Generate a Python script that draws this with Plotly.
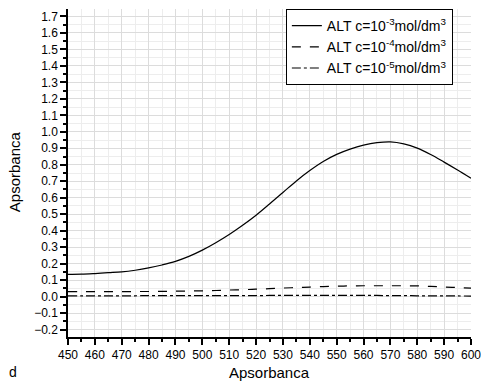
import plotly.graph_objects as go

wavelength = [450, 455, 460, 465, 470, 475, 480, 485, 490, 495, 500, 505, 510, 515,
              520, 525, 530, 535, 540, 545, 550, 555, 560, 565, 570, 575, 580, 585,
              590, 595, 600]
alt_1e3 = [0.135, 0.136, 0.140, 0.145, 0.150, 0.160, 0.174, 0.192, 0.214, 0.244,
           0.282, 0.327, 0.377, 0.433, 0.494, 0.562, 0.632, 0.702, 0.765, 0.820,
           0.863, 0.895, 0.919, 0.934, 0.939, 0.927, 0.901, 0.862, 0.816, 0.768, 0.718]
alt_1e4 = [0.030, 0.030, 0.030, 0.030, 0.030, 0.031, 0.031, 0.032, 0.033, 0.034,
           0.035, 0.037, 0.040, 0.042, 0.045, 0.048, 0.052, 0.055, 0.058, 0.061,
           0.063, 0.065, 0.066, 0.066, 0.066, 0.066, 0.065, 0.062, 0.058, 0.055, 0.052]
alt_1e5 = [0.005, 0.005, 0.005, 0.005, 0.005, 0.005, 0.006, 0.006, 0.006, 0.006,
           0.006, 0.006, 0.006, 0.006, 0.006, 0.007, 0.007, 0.007, 0.007, 0.007,
           0.007, 0.007, 0.007, 0.007, 0.006, 0.006, 0.005, 0.005, 0.004, 0.004, 0.003]

names = ["ALT c=10<sup>-3</sup>mol/dm<sup>3</sup>",
         "ALT c=10<sup>-4</sup>mol/dm<sup>3</sup>",
         "ALT c=10<sup>-5</sup>mol/dm<sup>3</sup>"]
x_title = "Apsorbanca"
y_title = "Apsorbanca"
panel_label = "d"

FONT = "Arial"

fig = go.Figure()
for ys, nm, dash in zip([alt_1e3, alt_1e4, alt_1e5], names, ["solid", "dash", "dashdot"]):
    fig.add_trace(go.Scatter(x=wavelength, y=ys, mode="lines", name=nm,
                             line=dict(color="black", width=1.2, dash=dash, shape="spline")))

axis_common = dict(showline=True, linecolor="black", linewidth=1.5,
                   ticks="outside", ticklen=6, tickwidth=1.5, tickcolor="black",
                   showgrid=True, gridcolor="#dcdcdc", gridwidth=1,
                   zeroline=False, tickfont=dict(family=FONT, size=12, color="black"),
                   mirror=False, ticklabeloverflow="allow", automargin=False)

fig.update_xaxes(range=[450, 600], dtick=10, tick0=450,
                 minor=dict(dtick=5, ticks="outside", ticklen=3, tickcolor="black",
                            showgrid=True, gridcolor="#ededed"),
                 **axis_common)
fig.update_yaxes(range=[-0.245, 1.745], dtick=0.1, tick0=0, tickformat=".1f",
                 minor=dict(dtick=0.05, ticks="outside", ticklen=3, tickcolor="black",
                            showgrid=True, gridcolor="#ededed"),
                 **axis_common)

fig.add_annotation(text=x_title, xref="paper", yref="paper", x=0.5, y=-0.107,
                   xanchor="center", yanchor="middle", showarrow=False,
                   font=dict(family=FONT, size=15, color="black"))
fig.add_annotation(text=y_title, xref="paper", yref="paper", x=-0.132, y=0.505,
                   xanchor="center", yanchor="middle", showarrow=False, textangle=-90,
                   font=dict(family=FONT, size=15, color="black"))
fig.add_annotation(text=panel_label, xref="paper", yref="paper", x=-0.152, y=-0.107,
                   xanchor="left", yanchor="middle", showarrow=False,
                   font=dict(family=FONT, size=14, color="black"))

fig.update_layout(
    width=481, height=385,
    margin=dict(l=68, r=10, t=9, b=48),
    plot_bgcolor="white", paper_bgcolor="white",
    font=dict(family=FONT, color="black"),
    legend=dict(x=0.955, y=1.0, xanchor="right", yanchor="top",
                bgcolor="white", bordercolor="black", borderwidth=1,
                font=dict(family=FONT, size=14, color="black"), itemwidth=30,
                tracegroupgap=0),
    showlegend=True,
)

fig.write_html("out.html")
